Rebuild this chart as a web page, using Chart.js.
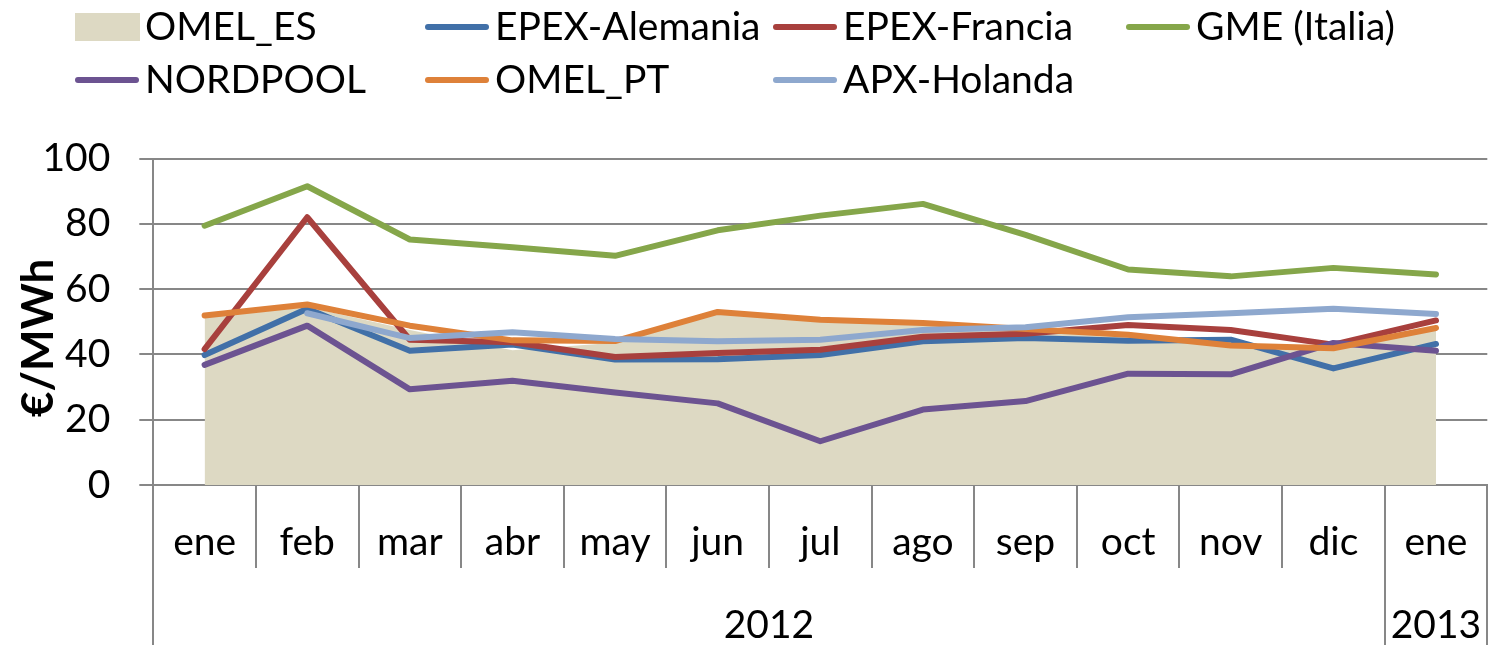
<!DOCTYPE html>
<html>
<head>
<meta charset="utf-8">
<script src="https://cdn.jsdelivr.net/npm/chart.js@4/dist/chart.umd.min.js"></script>
<style>
  html, body { margin: 0; padding: 0; background: #fff; }
  #wrap { position: relative; width: 1490px; height: 645px; overflow: hidden; }
  #c { position: absolute; left: 0; top: 0; }
  .lg-item { position: absolute; font-family: Lato, sans-serif; font-size: 39px; line-height: 39px; color: #000; white-space: nowrap; }
  .lg-mark { position: absolute; }
</style>
</head>
<body>
<div id="wrap">
  <canvas id="c" width="1490" height="645"></canvas>
</div>
<script>
// ---- data ----
const months = ['ene','feb','mar','abr','may','jun','jul','ago','sep','oct','nov','dic','ene'];
const yearLabels = ['2012', '2013'];
const yearSpans = [12, 1];          // number of months under each year
const yTicks = [0, 20, 40, 60, 80, 100];

const omelES   = [51.2, 54.5, 47.5, 41.3, 43.6, 53.0, 50.3, 49.3, 47.6, 45.8, 42.3, 41.5, 47.5];
const epexDE   = [39.8, 54.0, 41.1, 43.0, 38.4, 38.5, 39.8, 44.0, 45.0, 44.2, 44.5, 35.7, 43.2];
const epexFR   = [41.6, 82.0, 44.5, 43.7, 39.2, 40.4, 41.4, 45.4, 46.3, 49.0, 47.5, 43.0, 50.4];
const gmeIT    = [79.4, 91.5, 75.2, 72.8, 70.2, 78.0, 82.5, 86.1, 76.6, 66.0, 63.9, 66.5, 64.5];
const nordpool = [36.8, 48.8, 29.3, 31.9, 28.3, 25.0, 13.4, 23.1, 25.7, 34.1, 33.9, 43.5, 41.1];
const omelPT   = [51.9, 55.3, 48.8, 44.3, 44.1, 53.0, 50.6, 49.6, 47.8, 46.0, 42.7, 41.9, 48.1];
const apxNL    = [null, 52.6, 45.0, 46.8, 44.7, 44.0, 44.5, 47.5, 48.3, 51.4, 52.6, 54.0, 52.4];

// ---- styling ----
const FONT = 'Lato';
const GRID = '#878787';
const C = {
  es: '#DDD9C3', de: '#4170A8', fr: '#A8403D', it: '#85A64A',
  np: '#6C5391', pt: '#DE8139', nl: '#8EA8CE'
};

function lineDs(label, data, color, order) {
  return {
    type: 'line', label, data, borderColor: color, backgroundColor: color,
    borderWidth: 6, pointRadius: 0, tension: 0, fill: false,
    borderCapStyle: 'round', borderJoinStyle: 'round', order, xAxisID: 'x', yAxisID: 'y'
  };
}

const datasets = [
  { type: 'line', label: 'OMEL_ES', data: omelES, borderWidth: 0, borderColor: 'rgba(0,0,0,0)',
    backgroundColor: C.es, fill: 'origin', pointRadius: 0, tension: 0, order: 10, xAxisID: 'x', yAxisID: 'y' },
  lineDs('EPEX-Alemania', epexDE, C.de, 6),
  lineDs('EPEX-Francia', epexFR, C.fr, 5),
  lineDs('GME (Italia)', gmeIT, C.it, 4),
  lineDs('NORDPOOL', nordpool, C.np, 3),
  lineDs('OMEL_PT', omelPT, C.pt, 2),
  lineDs('APX-Holanda', apxNL, C.nl, 1)
];

// year axis ticks: group boundaries + group centres
const yearBounds = [0];
yearSpans.forEach(s => yearBounds.push(yearBounds[yearBounds.length - 1] + s));
const yearCentres = yearSpans.map((s, i) => yearBounds[i] + s / 2);
const yearTickVals = [...yearBounds, ...yearCentres].sort((a, b) => a - b);

new Chart(document.getElementById('c'), {
  type: 'line',
  data: { labels: months, datasets },
  options: {
    responsive: false,
    animation: false,
    layout: { padding: { top: 158.5, right: 2.7, left: 0, bottom: 0 } },
    plugins: { legend: { display: false }, tooltip: { enabled: false } },
    scales: {
      x: {
        type: 'category', position: 'bottom', weight: 0, offset: true,
        grid: { offset: true, drawOnChartArea: false, drawTicks: true, tickLength: 83, color: GRID, lineWidth: 2 },
        border: { display: true, color: GRID, width: 2 },
        ticks: { font: { family: FONT, size: 39 }, color: '#000', padding: -49, maxRotation: 0, autoSkip: false },
        afterFit: s => { s.height = 83; }
      },
      x2: {
        type: 'linear', position: 'bottom', weight: 1, min: 0, max: months.length,
        afterBuildTicks: s => { s.ticks = yearTickVals.map(v => ({ value: v })); },
        grid: {
          drawOnChartArea: false, drawTicks: true, tickLength: 77, lineWidth: 2,
          color: c => (c.tick && yearBounds.includes(c.tick.value)) ? GRID : 'rgba(0,0,0,0)'
        },
        border: { display: false },
        ticks: {
          font: { family: FONT, size: 39 }, color: '#000', padding: -43, maxRotation: 0, autoSkip: false,
          callback: v => { const i = yearCentres.indexOf(v); return i >= 0 ? yearLabels[i] : ''; }
        },
        afterFit: s => { s.height = 77; }
      },
      y: {
        min: yTicks[0], max: yTicks[yTicks.length - 1],
        afterBuildTicks: s => { s.ticks = yTicks.map(v => ({ value: v })); },
        grid: { color: GRID, lineWidth: 2, tickLength: 14, drawTicks: true },
        border: { display: true, color: GRID, width: 2 },
        ticks: { font: { family: FONT, size: 39 }, color: '#000', padding: 29 },
        title: { display: true, text: '€/MWh', color: '#000', font: { family: FONT, size: 44, weight: 'bold' }, padding: { top: 12, bottom: 0 } },
        afterFit: s => {
          s.width = 153.3;
          if (!s._titleShifted) {
            const base = Object.getPrototypeOf(s).drawTitle;
            s.drawTitle = function () {
              const ctx = this.ctx;
              ctx.save();
              ctx.translate(0, 16);   // reference centres the title slightly below the plot centre
              base.call(this);
              ctx.restore();
            };
            s._titleShifted = true;
          }
        }
      }
    }
  }
});

// ---- legend (HTML, column-aligned as in the reference) ----
const legendSlots = [[75, 0], [425, 0], [773, 0], [1126, 0], [75, 1], [425, 1], [773, 1]];
const rowCentre = [27, 80];
const wrap = document.getElementById('wrap');
datasets.forEach((d, i) => {
  const [x, r] = legendSlots[i];
  const cy = rowCentre[r];
  const mark = document.createElement('div');
  mark.className = 'lg-mark';
  if (d.fill) {
    Object.assign(mark.style, { left: x + 'px', top: (cy - 14) + 'px', width: '65px', height: '28px', background: d.backgroundColor });
  } else {
    Object.assign(mark.style, { left: x + 'px', top: (cy - 3) + 'px', width: '64px', height: '6px', borderRadius: '3px', background: d.borderColor });
  }
  wrap.appendChild(mark);
  const t = document.createElement('div');
  t.className = 'lg-item';
  t.textContent = d.label;
  t.style.left = (x + 70) + 'px';
  t.style.top = (cy - 21) + 'px';
  wrap.appendChild(t);
});
</script>
</body>
</html>
